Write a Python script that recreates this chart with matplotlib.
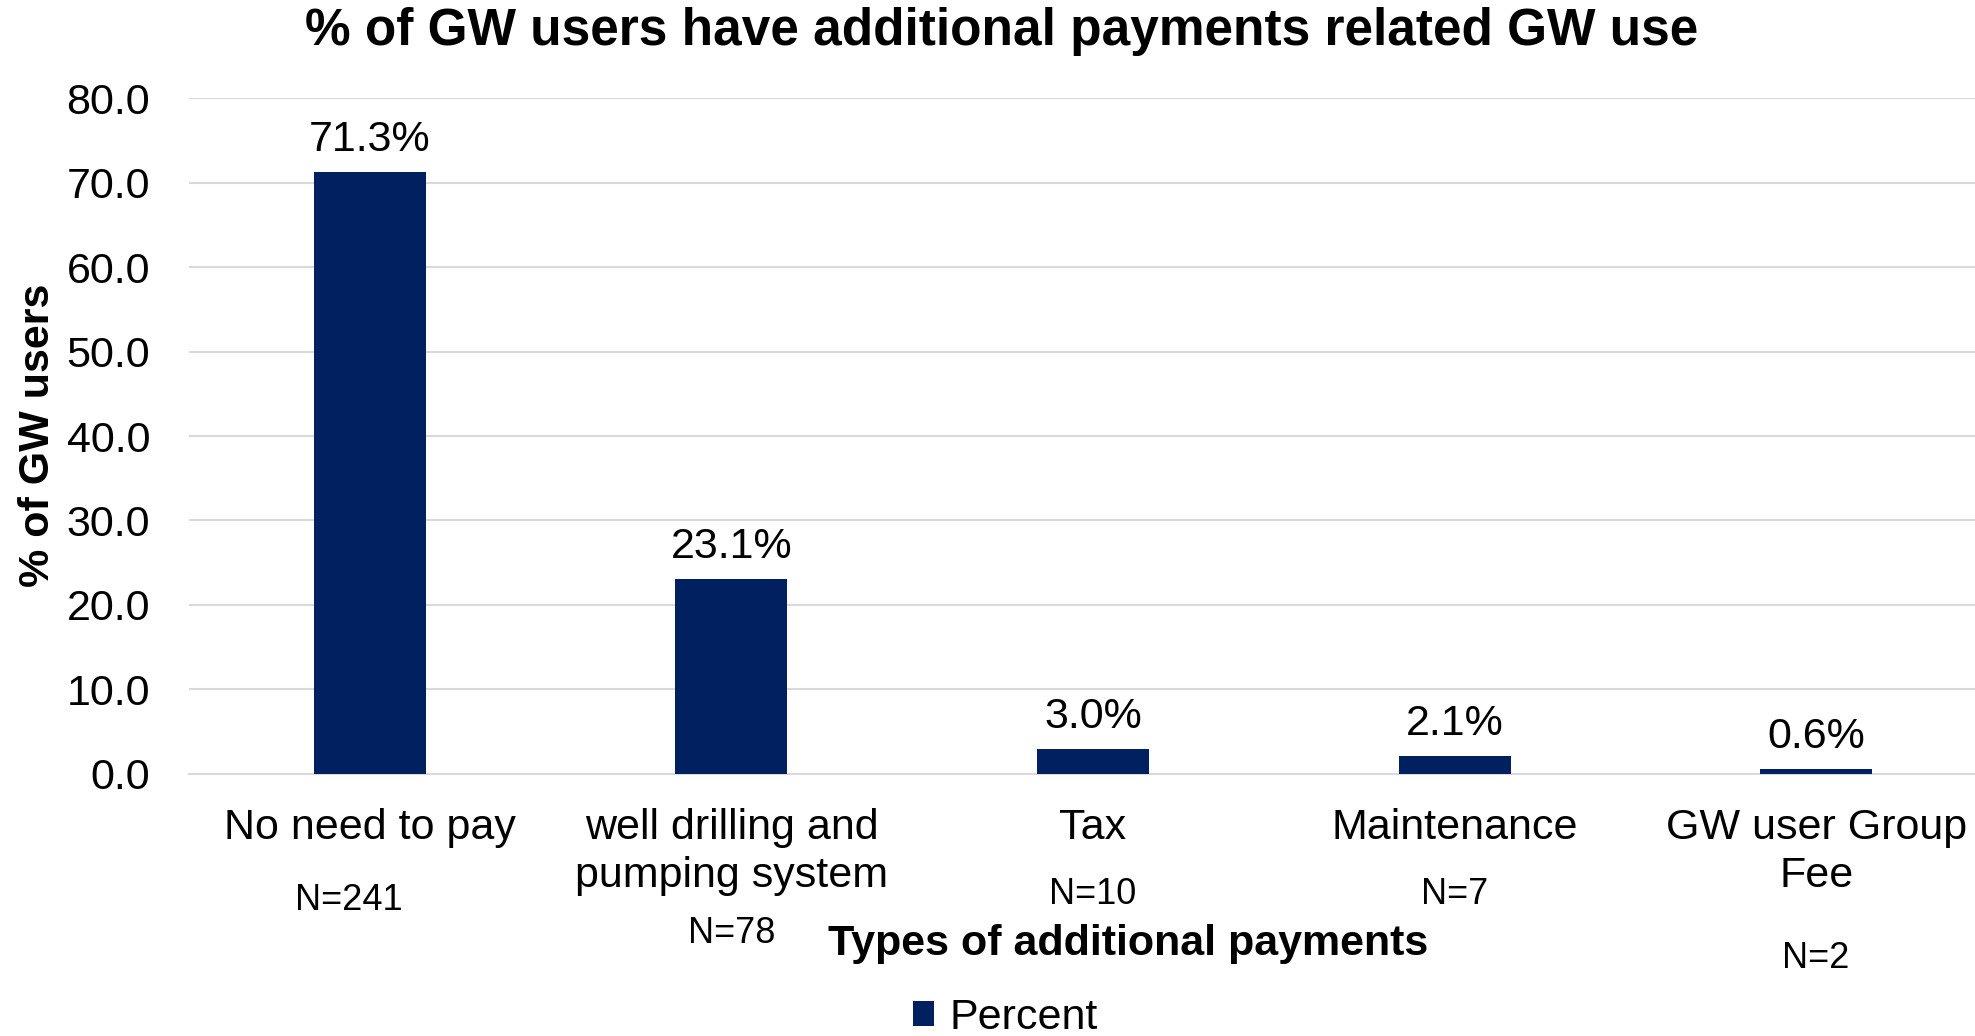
import numpy as np
import matplotlib
matplotlib.use('Agg')
import matplotlib.pyplot as plt

plt.rcParams['font.family'] = ['Liberation Sans', 'DejaVu Sans']

categories = ['No need to pay', 'well drilling and\npumping system', 'Tax',
              'Maintenance', 'GW user Group\nFee']
percent = [71.3, 23.1, 3.0, 2.1, 0.6]
counts = [241, 78, 10, 7, 2]
yticks = [0, 10, 20, 30, 40, 50, 60, 70, 80]

# placement of each "N=" line below the axis, in pixels (dx, drop)
n_offsets = [(-21, 136), (0, 169), (0, 130), (0, 130), (0, 194)]

bar_color = '#002060'
grid_color = '#d9d9d9'
line_px = 48  # line height of the category names

fig = plt.figure(figsize=(19.75, 10.36), dpi=100)
ax = fig.add_axes([0.0957, 0.2529, 0.9154, 0.6525])

x = np.arange(len(categories))
bars = ax.bar(x, percent, width=0.31, color=bar_color, label='Percent', zorder=3)

ax.set_xlim(-0.5, len(categories) - 0.5)
ax.set_ylim(0, 80)
ax.set_yticks(yticks)
ax.set_yticklabels(['%.1f' % v for v in yticks], fontsize=31)
ax.tick_params(axis='y', length=0, pad=28)
ax.set_xticks([])
ax.yaxis.grid(True, color=grid_color, linewidth=1.5, zorder=0)
for side in ['top', 'right', 'left']:
    ax.spines[side].set_visible(False)
ax.spines['bottom'].set_color(grid_color)
ax.spines['bottom'].set_linewidth(1.5)

# value labels above bars
for xi, v in zip(x, percent):
    ax.annotate('%.1f%%' % v, xy=(xi, v), xytext=(0, 21), textcoords='offset pixels',
                ha='center', va='baseline', fontsize=31)

# category names and sample sizes under the axis
for xi, name, n, (dx, drop) in zip(x, categories, counts, n_offsets):
    extra = name.count('\n') * line_px
    ax.annotate(name, xy=(xi, 0), xycoords=('data', 'axes fraction'),
                xytext=(0, -65 - extra), textcoords='offset pixels',
                ha='center', va='baseline', fontsize=31, linespacing=1.27)
    ax.annotate('N=%d' % n, xy=(xi, 0), xycoords=('data', 'axes fraction'),
                xytext=(dx, -drop), textcoords='offset pixels',
                ha='center', va='baseline', fontsize=26)

fig.text(0.507, 0.9566, '% of GW users have additional payments related GW use',
         ha='center', va='baseline', fontsize=37, fontweight='bold')
fig.text(0.571, 0.0782, 'Types of additional payments',
         ha='center', va='baseline', fontsize=31, fontweight='bold')
fig.text(0.0192, 0.58, '% of GW users', rotation=90,
         ha='center', va='center', fontsize=31, fontweight='bold')

fig.legend(handles=[bars], loc='center', bbox_to_anchor=(0.509, 0.0174),
           frameon=False, fontsize=31, handlelength=0.5, handleheight=0.5,
           handletextpad=0.35, borderpad=0)

fig.savefig('out.png', dpi=100)
